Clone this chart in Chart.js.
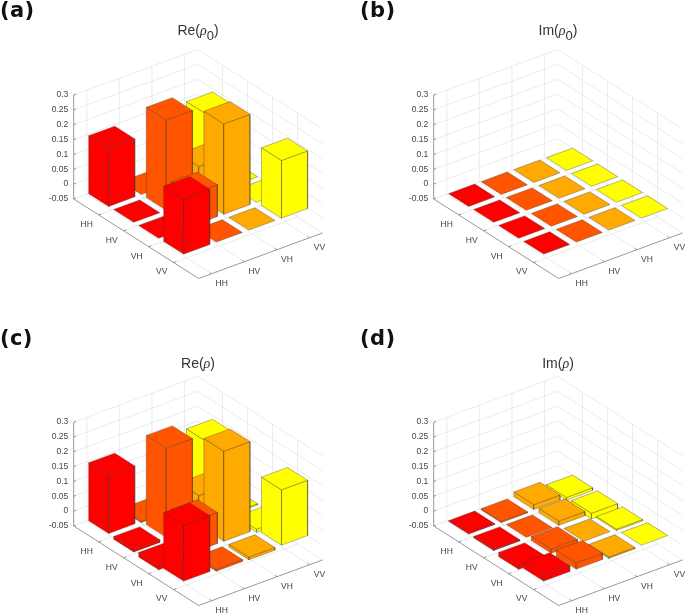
<!DOCTYPE html>
<html>
<head>
<meta charset="utf-8">
<script src="https://cdn.jsdelivr.net/npm/chart.js@4"></script>
<style>
  html, body { margin: 0; padding: 0; background: #fff; overflow: hidden; }
  #page { position: relative; width: 685px; height: 614px; overflow: hidden; }
  canvas { position: absolute; filter: blur(0.3px); }
  .tag { position: absolute; font: bold 21px "DejaVu Sans"; color: #111; line-height: 22px; letter-spacing: 0.4px; }
  .title { position: absolute; width: 120px; text-align: center; font: 14px "Liberation Sans"; color: #333; line-height: 18px; }
  .title i { font-family: "Liberation Serif"; font-size: 14px; }
  .title sub { font-size: 13px; line-height: 0; vertical-align: -5px; }
</style>
</head>
<body>
<div id="page">
  <canvas id="panel-a" width="330" height="287" style="left:0;top:0"></canvas>
  <canvas id="panel-b" width="330" height="287" style="left:360px;top:0"></canvas>
  <canvas id="panel-c" width="330" height="287" style="left:0;top:327px"></canvas>
  <canvas id="panel-d" width="330" height="287" style="left:360px;top:327px"></canvas>
  <div class="tag" style="left:0;top:-1px">(a)</div>
  <div class="tag" style="left:360px;top:-1px">(b)</div>
  <div class="tag" style="left:0;top:327px">(c)</div>
  <div class="tag" style="left:360px;top:327px">(d)</div>
  <div class="title" style="left:138px;top:21px">Re(<i>ρ</i><sub>0</sub>)</div>
  <div class="title" style="left:498px;top:21px">Im(<i>ρ</i><sub>0</sub>)</div>
  <div class="title" style="left:138px;top:354px">Re(<i>ρ</i>)</div>
  <div class="title" style="left:498px;top:354px">Im(<i>ρ</i>)</div>
</div>
<script>
"use strict";
const categories = ["HH", "HV", "VH", "VV"];
const zTicks = [-0.05, 0, 0.05, 0.1, 0.15, 0.2, 0.25, 0.3];
const zTickLabels = ["-0.05", "0", "0.05", "0.1", "0.15", "0.2", "0.25", "0.3"];
const colColors = ["#ff0000", "#ff5500", "#ffaa00", "#ffff00"];

// rows are the HH..VV axis on the left, columns the one on the right
const reRho0 = [
    [0.195, 0, 0, 0.189],
    [0, 0.304, 0.107, 0],
    [0, 0.107, 0.304, 0],
    [0.186, 0, 0, 0.194],
];
const imRho0 = [
    [0, 0, 0, 0],
    [0, 0, 0, 0],
    [0, 0, 0, 0],
    [0, 0, 0, 0],
];
const reRho = [
    [0.195, -0.004, -0.015, 0.188],
    [-0.009, 0.3, 0.1, -0.004],
    [-0.015, 0.105, 0.303, -0.01],
    [0.188, -0.007, -0.009, 0.186],
];
const imRho = [
    [-0.002, -0.004, 0.016, -0.009],
    [-0.004, 0, 0.014, -0.019],
    [-0.014, 0.014, 0, -0.004],
    [0.02, 0.021, -0.004, 0],
];

// view of the 3d box, in canvas pixels
const W = 330, H = 287;
const originX = 73.7, originY = 199;
const colStepX = 32.6, colStepY = 12;
const rowStepX = 25, rowStepY = 15.9;
const zScale = 297;
const colMin = 0.6, colMax = 4.4, rowMin = 0, rowMax = 5;
const zMin = -0.05, zMax = 0.3;
const barHalf = 0.4;

function project(c, r, z) {
    return {
        x: originX + colStepX * (c - colMin) + rowStepX * r,
        y: originY - colStepY * (c - colMin) + rowStepY * r - zScale * (z - zMin),
    };
}

function lineSet(a, b, color, width) {
    return {
        data: [a, b],
        showLine: true,
        borderColor: color,
        borderWidth: width,
        pointRadius: 0,
        fill: false,
        tension: 0,
    };
}

function faceSet(points, color) {
    return {
        data: points.concat([points[0]]),
        showLine: true,
        borderColor: "rgba(60,50,40,0.5)",
        borderWidth: 0.7,
        backgroundColor: color,
        pointRadius: 0,
        fill: "shape",
        tension: 0,
    };
}

function gridSets() {
    const grid = "#e6e6e6";
    const sets = [];
    zTicks.slice(1).forEach(function (z) {
        sets.push(lineSet(project(colMin, rowMin, z), project(colMax, rowMin, z), grid, 0.8));
        sets.push(lineSet(project(colMax, rowMin, z), project(colMax, rowMax, z), grid, 0.8));
    });
    categories.forEach(function (name, i) {
        const t = i + 1;
        sets.push(lineSet(project(t, rowMin, zMin), project(t, rowMin, zMax), grid, 0.8));
        sets.push(lineSet(project(colMax, t, zMin), project(colMax, t, zMax), grid, 0.8));
        sets.push(lineSet(project(t, rowMin, zMin), project(t, rowMax, zMin), grid, 0.8));
        sets.push(lineSet(project(colMin, t, zMin), project(colMax, t, zMin), grid, 0.8));
    });
    sets.push(lineSet(project(colMin, rowMin, zMin), project(colMax, rowMin, zMin), grid, 0.8));
    sets.push(lineSet(project(colMax, rowMin, zMin), project(colMax, rowMax, zMin), grid, 0.8));
    return sets;
}

function axisSets() {
    const axis = "#8c8c8c";
    const sets = [];
    sets.push(lineSet(project(colMin, rowMin, zMin), project(colMin, rowMin, zMax), axis, 0.9));
    sets.push(lineSet(project(colMin, rowMin, zMin), project(colMin, rowMax, zMin), axis, 0.9));
    sets.push(lineSet(project(colMin, rowMax, zMin), project(colMax, rowMax, zMin), axis, 0.9));
    zTicks.forEach(function (z) {
        sets.push(lineSet(project(colMin, rowMin, z), project(colMin + 0.07, rowMin, z), axis, 0.9));
    });
    categories.forEach(function (name, i) {
        const t = i + 1;
        sets.push(lineSet(project(colMin, t, zMin), project(colMin + 0.08, t, zMin), axis, 0.9));
        sets.push(lineSet(project(t, rowMax, zMin), project(t, rowMax - 0.08, zMin), axis, 0.9));
    });
    return sets;
}

function barSets(values) {
    const sets = [];
    // painter's order: far corner first
    for (let r = 0; r < 4; r++) {
        for (let c = 3; c >= 0; c--) {
            const v = values[r][c];
            const top = Math.max(v, 0), bottom = Math.min(v, 0);
            const c0 = c + 1 - barHalf, c1 = c + 1 + barHalf;
            const r0 = r + 1 - barHalf, r1 = r + 1 + barHalf;
            const color = colColors[c];
            if (v !== 0) {
                sets.push(faceSet([project(c0, r0, top), project(c0, r1, top), project(c0, r1, bottom), project(c0, r0, bottom)], color));
                sets.push(faceSet([project(c0, r1, top), project(c1, r1, top), project(c1, r1, bottom), project(c0, r1, bottom)], color));
            }
            sets.push(faceSet([project(c0, r0, top), project(c1, r0, top), project(c1, r1, top), project(c0, r1, top)], color));
        }
    }
    return sets;
}

const tickLabels = {
    id: "tickLabels",
    afterDraw: function (chart) {
        const ctx = chart.ctx;
        const sx = chart.scales.x, sy = chart.scales.y;
        ctx.save();
        ctx.font = '8.5px "Liberation Sans"';
        ctx.fillStyle = "#444";
        ctx.textBaseline = "middle";
        ctx.textAlign = "right";
        zTicks.forEach(function (z, i) {
            const p = project(colMin, rowMin, z);
            ctx.fillText(zTickLabels[i], sx.getPixelForValue(p.x) - 5.4, sy.getPixelForValue(p.y));
        });
        ctx.textAlign = "center";
        categories.forEach(function (name, i) {
            const a = project(colMin, i + 1, zMin);
            ctx.fillText(name, sx.getPixelForValue(a.x) - 12, sy.getPixelForValue(a.y) + 9.5);
            const b = project(i + 1, rowMax, zMin);
            ctx.fillText(name, sx.getPixelForValue(b.x) + 10, sy.getPixelForValue(b.y) + 9.5);
        });
        ctx.restore();
    },
};

function makePanel(id, values) {
    // first dataset is painted last, so the list is turned round
    const datasets = gridSets().concat(axisSets(), barSets(values)).reverse();
    return new Chart(document.getElementById(id), {
        type: "scatter",
        data: { datasets: datasets },
        plugins: [tickLabels],
        options: {
            responsive: false,
            animation: false,
            layout: { padding: 0 },
            plugins: { legend: { display: false }, tooltip: { enabled: false } },
            scales: {
                x: { type: "linear", display: false, min: 0, max: W },
                y: { type: "linear", display: false, min: 0, max: H, reverse: true },
            },
        },
    });
}

makePanel("panel-a", reRho0);
makePanel("panel-b", imRho0);
makePanel("panel-c", reRho);
makePanel("panel-d", imRho);
</script>
</body>
</html>
